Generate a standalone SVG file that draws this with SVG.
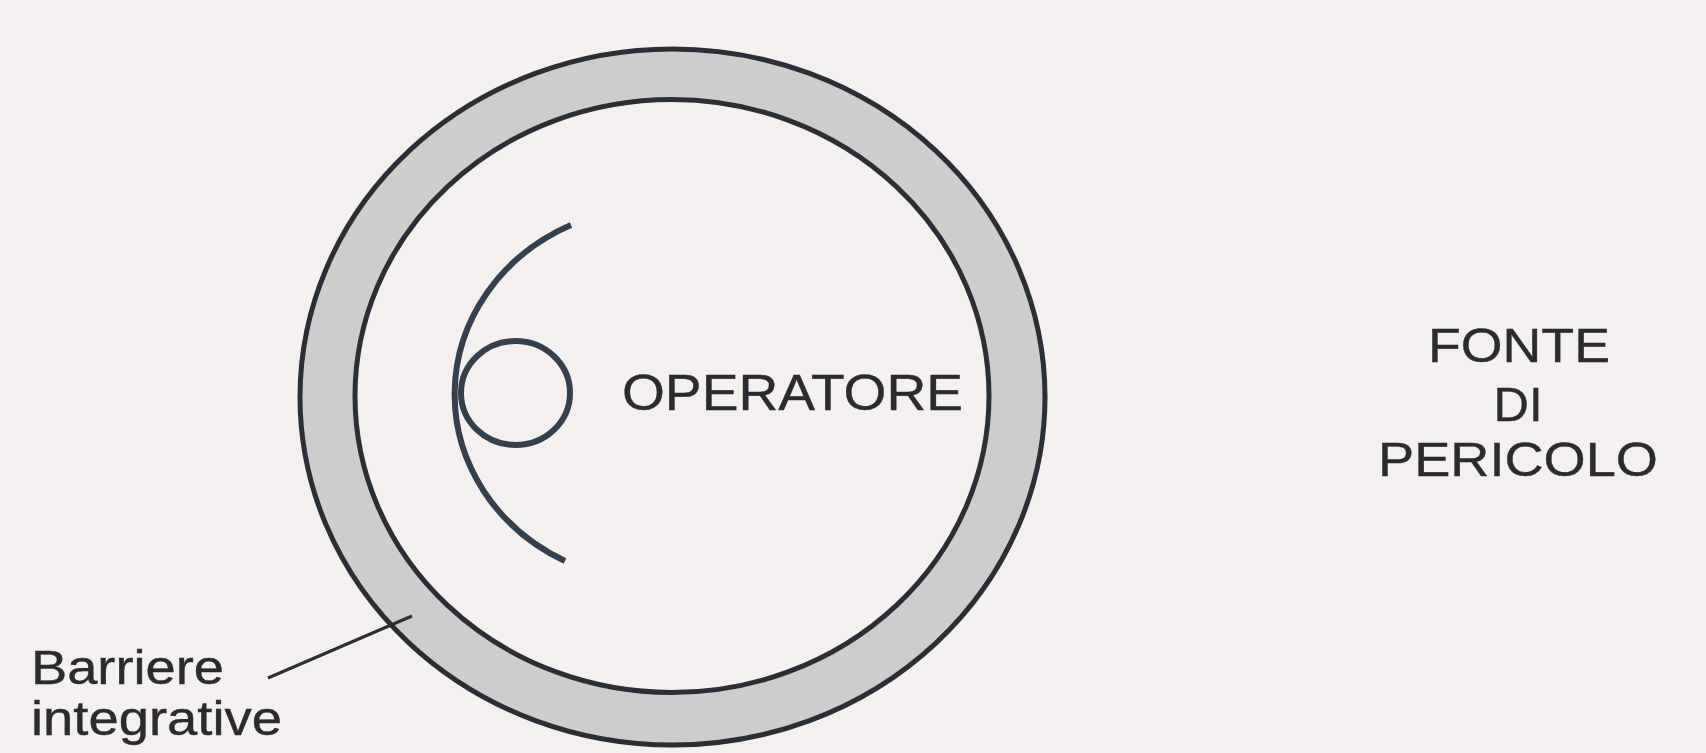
<svg xmlns="http://www.w3.org/2000/svg" width="1706" height="753" viewBox="0 0 1706 753">
<style>
.lbl{font-family:"Liberation Sans",Arial,sans-serif;fill:#2a2b2f;stroke:#2a2b2f;stroke-width:0.4}
.ring{fill:none;stroke:#2b2f35;stroke-width:5}
.op{fill:none;stroke:#36404c;stroke-width:6;stroke-linecap:butt}
</style>
<rect x="0" y="0" width="1706" height="753" fill="#f4f0ef"/>
<g id="barrier">
<path d="M300,397 a372.5,348 0 1,0 745,0 a372.5,348 0 1,0 -745,0 Z M355,396 a317,296.5 0 1,1 634,0 a317,296.5 0 1,1 -634,0 Z" fill="#cfcccd" fill-rule="evenodd"/>
<ellipse class="ring" cx="672.5" cy="397" rx="372.5" ry="348"/>
<ellipse class="ring" cx="672" cy="396" rx="317" ry="296.5"/>
</g>
<g id="operator">
<path class="op" d="M571,225 A202,187 0 0,0 565,561"/>
<ellipse class="op" cx="515.5" cy="393" rx="54.5" ry="52"/>
<text class="lbl" x="622" y="410" font-size="50" textLength="341" lengthAdjust="spacingAndGlyphs">OPERATORE</text>
</g>
<g id="source">
<text class="lbl" x="1519" y="362" font-size="49" text-anchor="middle" textLength="182" lengthAdjust="spacingAndGlyphs">FONTE</text>
<text class="lbl" x="1518" y="421" font-size="49" text-anchor="middle" textLength="49" lengthAdjust="spacingAndGlyphs">DI</text>
<text class="lbl" x="1518" y="476" font-size="49" text-anchor="middle" textLength="280" lengthAdjust="spacingAndGlyphs">PERICOLO</text>
</g>
<g id="label">
<text class="lbl" x="31" y="684" font-size="49" textLength="193" lengthAdjust="spacingAndGlyphs">Barriere</text>
<text class="lbl" x="31" y="735" font-size="49" textLength="251" lengthAdjust="spacingAndGlyphs">integrative</text>
</g>
<g id="connectors">
<line x1="268" y1="678" x2="412" y2="616" stroke="#2b2f35" stroke-width="3"/>
</g>
</svg>
